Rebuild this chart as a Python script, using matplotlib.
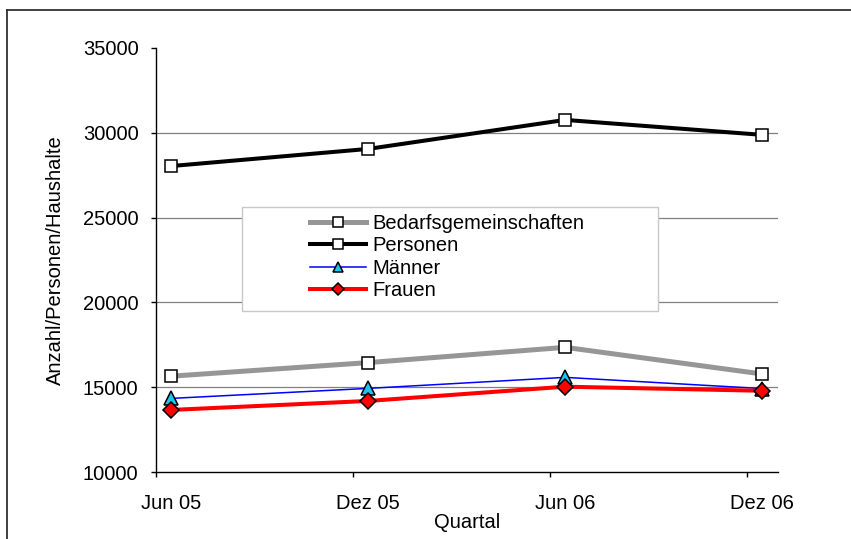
import numpy as np
import matplotlib
matplotlib.use('Agg')
import matplotlib.pyplot as plt
from matplotlib.patches import Rectangle
from matplotlib.lines import Line2D

plt.rcParams['font.family'] = ['Liberation Sans', 'DejaVu Sans']

# data
quartale = ['Jun 05', 'Dez 05', 'Jun 06', 'Dez 06']
bedarfsgemeinschaften = [15650, 16450, 17350, 15780]
personen = [28040, 29050, 30760, 29880]
maenner = [14340, 14930, 15580, 14920]
frauen = [13660, 14190, 15030, 14790]
y_ticks = [10000, 15000, 20000, 25000, 30000, 35000]

FS = 14.5

fig = plt.figure(figsize=(8.51, 5.39), dpi=100)
ax = fig.add_axes([156 / 851, 1 - 472 / 539, 622 / 851, 424 / 539])

x = np.arange(len(quartale))

ax.plot(x, bedarfsgemeinschaften, color='#969696', lw=3.6, marker='s', ms=9,
        mfc='white', mec='black', mew=1.1, label='Bedarfsgemeinschaften', zorder=3)
ax.plot(x, personen, color='black', lw=2.9, marker='s', ms=9,
        mfc='white', mec='black', mew=1.1, label='Personen', zorder=3)
ax.plot(x, maenner, color='#0000ff', lw=1.1, marker='^', ms=9.5,
        mfc='#1ec3f0', mec='black', mew=1.1, label='Männer', zorder=4)
ax.plot(x, frauen, color='#ff0000', lw=2.9, marker='D', ms=8,
        mfc='#ff0000', mec='black', mew=1.1, label='Frauen', zorder=5)

# axes ranges: category points sit slightly right of the tick marks
ax.set_xlim(-0.076, 3.081)
ax.set_ylim(10000, 35000)

ax.set_yticks(y_ticks)
ax.set_yticklabels([str(v) for v in y_ticks], fontsize=FS)
ax.tick_params(axis='y', direction='out', length=3.6, width=1, pad=9)

ax.set_xticks(x)
ax.set_xticklabels(quartale, fontsize=FS)
ax.tick_params(axis='x', which='major', length=0, pad=16)
ax.set_xticks(x - 0.078, minor=True)
ax.tick_params(axis='x', which='minor', direction='out', length=3.6, width=1)

for s in ['top', 'right']:
    ax.spines[s].set_visible(False)
for s in ['left', 'bottom']:
    ax.spines[s].set_linewidth(1)

ax.grid(axis='y', color='#808080', lw=0.9)
ax.set_axisbelow(True)
gl = ax.get_ygridlines()
gl[0].set_visible(False)
gl[-1].set_visible(False)

ax.set_xlabel('Quartal', fontsize=FS)
ax.xaxis.set_label_coords(0.5, -0.12)
ax.xaxis.label.set_va('center')
ax.set_ylabel('Anzahl/Personen/Haushalte', fontsize=FS)
ax.yaxis.set_label_coords(-0.161, 0.5)
ax.yaxis.label.set_va('center')

# legend box
fig.patches.append(Rectangle((242 / 851, 1 - 310.7 / 539), 416 / 851, 103.7 / 539,
                             transform=fig.transFigure, facecolor='white',
                             edgecolor='#c8c8c8', lw=1, zorder=6))
leg = fig.legend(loc='upper left', bbox_to_anchor=(310 / 851, 1 - 214 / 539),
                 frameon=False, fontsize=FS, numpoints=1, handlelength=2.8,
                 handletextpad=0.3, labelspacing=0.17, borderpad=0, borderaxespad=0,
                 markerscale=0.78)
leg.set_zorder(7)

# outer chart frame (continues past the image edge)
fig.lines.append(Line2D([7 / 851, 7 / 851], [0, 1 - 10 / 539], transform=fig.transFigure,
                        color='#303030', lw=1.3))
fig.lines.append(Line2D([7 / 851, 1], [1 - 10 / 539, 1 - 10 / 539], transform=fig.transFigure,
                        color='#303030', lw=1.3))

fig.savefig('out.png', dpi=100, facecolor='white')
